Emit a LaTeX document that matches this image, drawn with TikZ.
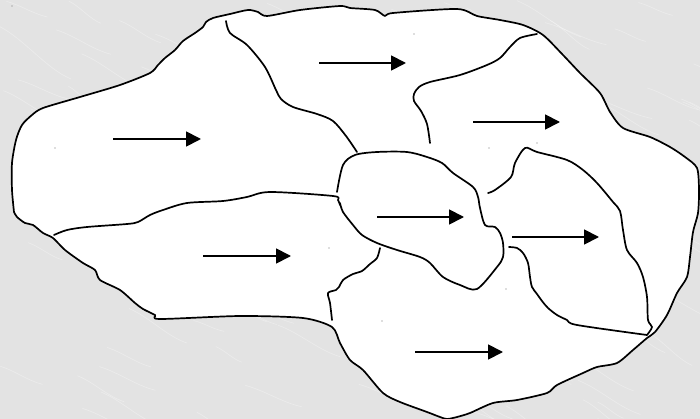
\documentclass[tikz,border=0pt]{standalone}
\usetikzlibrary{arrows.meta}
\definecolor{marble}{HTML}{E3E3E3}
\tikzset{
  rim/.style={draw=black, line width=1.7pt, line join=round, line cap=round},
  border/.style={rim, fill=white},
  flow/.style={draw=black, line width=1.8pt, -{Triangle[length=15pt,width=15pt]}},
  speck/.style={fill=black!55, draw=none},
  vein/.style={draw=white, line width=0.7pt, opacity=0.3, line cap=round}
}
\begin{document}
\begin{tikzpicture}[x=1pt, y=-1pt]
  % marbled backdrop
  \fill[marble] (0,0) rectangle (700,419);
  \useasboundingbox (0,0) rectangle (700,419);
  \pgfmathsetseed{11}
  \foreach \i in {1,...,160}{
    \pgfmathsetmacro\xa{rnd*700}
    \pgfmathsetmacro\ya{rnd*419}
    \pgfmathsetmacro\dx{25+rnd*50}
    \pgfmathsetmacro\dy{(0.35+rnd*0.4)*\dx}
    \draw[vein] (\xa,\ya) .. controls (\xa+\dx*0.35,\ya+\dy*0.25) and (\xa+\dx*0.65,\ya+\dy*0.8) .. (\xa+\dx,\ya+\dy);
  }

  % outer outline of the whole area
  \draw[border] plot[smooth, tension=0.45] coordinates {
    (14,212) (12,190) (12,163) (16,140) (22,125) (32,115) (43,108) (80,97)
    (120,85) (150,73) (158,65) (165,58) (175,50) (183,41) (195,33) (203,27)
    (206,22) (213,18) (230,14) (248,10) (258,12) (267,16) (300,10) (340,6)
    (350,8) (375,10) (385,16) (393,13) (457,9) (477,16) (500,20) (523,25)
    (543,35) (563,55) (580,73) (600,93) (610,112) (623,128) (650,137)
    (670,147) (685,157) (697,168) (699,190) (698,213) (693,232) (690,257)
    (687,277) (677,293) (667,315) (655,332) (647,338) (633,350) (617,363)
    (597,367) (583,373) (557,385) (547,393) (517,400) (493,403) (470,413)
    (457,417) (447,419) (440,417) (427,412) (400,402) (383,393) (363,370)
    (350,360) (340,343) (332,327) (303,318) (240,316) (160,319) (155,315)
    (143,309) (135,303) (120,290) (100,280) (95,270) (83,263) (65,250)
    (53,238) (43,233) (33,225) (25,223) (17,217) (14,212)
  } -- cycle;

  % inner boundaries
  \draw[rim] plot[smooth, tension=0.5] coordinates {
    (226,21) (230,33) (247,45) (265,67) (276,90) (281,99) (293,107)
    (317,114) (333,121) (346,136) (357,152)};
  \draw[rim] plot[smooth, tension=0.5] coordinates {
    (537,34) (520,38) (510,47) (500,58) (487,65) (460,75) (430,82)
    (419,87) (414,94) (414,101) (421,111) (427,124) (430,143)};
  \draw[rim] plot[smooth, tension=0.5] coordinates {
    (54,235) (67,230) (87,227) (127,224) (138,222) (150,215) (163,210)
    (187,203) (223,201) (247,197) (270,192) (333,196) (338,200) (340,205)};
  \draw[rim] plot[smooth, tension=0.5] coordinates {
    (337,192) (343,165) (355,155) (377,152) (407,152) (427,157) (442,163)
    (453,173) (473,187) (478,197) (480,208) (485,225) (495,227) (500,233)
    (503,243) (503,257) (497,267) (477,289) (460,285) (443,277) (430,263)
    (420,257) (397,250) (377,243) (362,235) (353,225) (343,212) (340,203)};
  \draw[rim] plot[smooth, tension=0.5] coordinates {
    (380,248) (377,258) (370,264) (362,271) (353,274) (343,280) (339,287)
    (336,290) (328,293) (330,303) (332,320)};
  \draw[rim] plot[smooth, tension=0.5] coordinates {
    (488,193) (495,190) (511,177) (515,163) (525,148) (537,152) (567,160)
    (583,170) (597,183) (613,202) (620,211) (623,230) (627,250) (637,263)
    (643,277) (647,297) (648,320) (652,327) (647,335)}
    -- plot[smooth, tension=0.5] coordinates {
    (647,335) (577,325) (567,320) (557,315) (548,308) (542,301) (537,294)
    (532,287) (530,277) (528,263) (523,253) (517,248) (509,247)};

  % flow arrows
  \coordinate (a1s) at (113,139); \coordinate (a1e) at (201,139);
  \coordinate (a2s) at (319,63);  \coordinate (a2e) at (406,63);
  \coordinate (a3s) at (473,122); \coordinate (a3e) at (560,122);
  \coordinate (a4s) at (203,256); \coordinate (a4e) at (291,256);
  \coordinate (a5s) at (377,217); \coordinate (a5e) at (464,217);
  \coordinate (a6s) at (512,237); \coordinate (a6e) at (599,237);
  \coordinate (a7s) at (415,352); \coordinate (a7e) at (503,352);
  \foreach \k in {1,...,7}{ \draw[flow] (a\k s) -- (a\k e); }

  % stray specks
  \foreach \p in {(12,6),(55,148),(414,34),(489,148),(537,143),(329,248),(506,289),(382,321)}{
    \fill[speck] \p circle (0.7);
  }
\end{tikzpicture}
\end{document}
